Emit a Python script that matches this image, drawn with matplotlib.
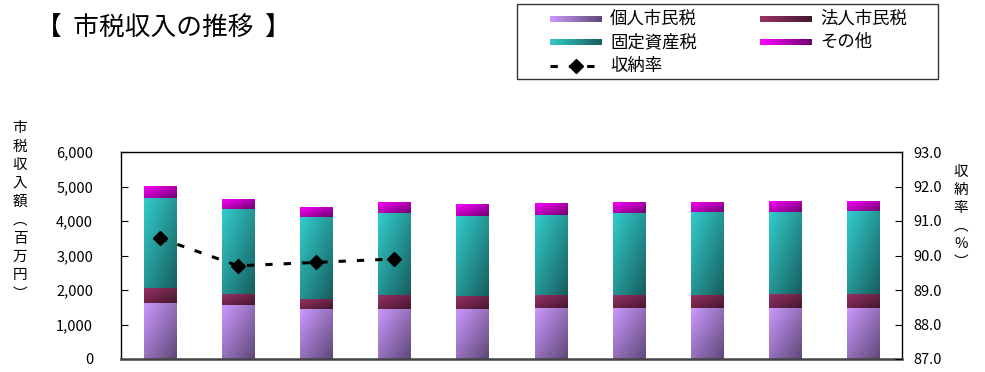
import numpy as np
import matplotlib
matplotlib.use("Agg")
import matplotlib.pyplot as plt
from matplotlib.colors import to_rgb
from matplotlib.patches import Rectangle
from matplotlib.ticker import FuncFormatter, FormatStrFormatter

plt.rcParams['font.family'] = ['Noto Sans CJK JP', 'DejaVu Sans']

# values in 百万円
personal = [1630, 1573, 1456, 1456, 1456, 1485, 1485, 1485, 1485, 1485]
corporate = [437, 320, 292, 408, 379, 379, 379, 379, 408, 408]
fixed_asset = [2592, 2447, 2359, 2359, 2301, 2301, 2359, 2388, 2359, 2389]
others = [350, 291, 291, 321, 349, 350, 321, 292, 321, 291]
rate = [90.5, 89.7, 89.8, 89.9, np.nan, np.nan, np.nan, np.nan, np.nan, np.nan]

series_names = ['個人市民税', '法人市民税', '固定資産税', 'その他']
rate_name = '収納率'

# light / dark ends of each gradient
colors = [('#CC99FF', '#5E4878'), ('#993366', '#45162E'),
          ('#33CCCC', '#175E5E'), ('#FF00FF', '#700070')]

DASH = (0, (2.4, 3.6))


def gradient_img(c_light, c_dark, diagonal=True, n=64):
    a, b = np.array(to_rgb(c_light)), np.array(to_rgb(c_dark))
    u = np.linspace(0, 1, n)
    if diagonal:
        t = (u[None, :] + u[:, None]) / 2
    else:
        t = np.tile(u, (n, 1))
    return a + (b - a) * t[..., None]


def fill_gradient(ax, patch, c_light, c_dark, diagonal=True):
    x, y = patch.get_x(), patch.get_y()
    w, h = patch.get_width(), patch.get_height()
    im = ax.imshow(gradient_img(c_light, c_dark, diagonal), extent=[x, x + w, y, y + h],
                   origin='upper', aspect='auto', interpolation='bilinear',
                   zorder=patch.get_zorder())
    im.set_clip_path(patch)
    patch.set_facecolor('none')


def main():
    W, H = 985, 372
    fig = plt.figure(figsize=(W / 100, H / 100), dpi=100)
    ax = fig.add_axes([121 / W, 1 - 359 / H, 781 / W, 207 / H])

    x = np.arange(len(personal))
    bottom = np.zeros(len(x))
    for vals, (c1, c2) in zip([personal, corporate, fixed_asset, others], colors):
        bars = ax.bar(x, vals, width=0.41, bottom=bottom, edgecolor='none', zorder=2)
        for p in bars:
            fill_gradient(ax, p, c1, c2)
        bottom += np.array(vals)

    ax.set_xlim(-0.5, len(x) - 0.5)
    ax.set_ylim(0, 6000)
    ax.set_yticks(np.arange(0, 6001, 1000))
    ax.yaxis.set_major_formatter(FuncFormatter(lambda v, p: f'{v:,.0f}'))
    ax.tick_params(axis='y', direction='in', length=5, pad=20, labelsize=10.5)
    ax.tick_params(axis='x', bottom=False, labelbottom=False)
    for s in ['top', 'left', 'right']:
        ax.spines[s].set_linewidth(1.0)
    ax.spines['bottom'].set_color('#444444')
    ax.spines['bottom'].set_linewidth(1.8)

    ax2 = ax.twinx()
    ax2.plot(x, rate, color='black', linestyle=DASH, linewidth=2.2,
             marker='D', markersize=7.5)
    ax2.set_ylim(87, 93)
    ax2.set_yticks(np.arange(87, 93.1, 1))
    ax2.yaxis.set_major_formatter(FormatStrFormatter('%.1f'))
    ax2.tick_params(axis='y', direction='in', length=5, pad=8, labelsize=10.5)
    for s in ax2.spines.values():
        s.set_visible(False)

    # title and axis labels
    fig.text(36 / W, 1 - 29 / H, '【  市税収入の推移  】', fontsize=18.5, va='center', ha='left')
    fig.text(20 / W, 1 - 211 / H, '\n'.join('市税収入額︵百万円︶'), fontsize=10.5,
             ha='center', va='center', linespacing=1.4)
    fig.text(961 / W, 1 - 217 / H, '\n'.join('収納率︵%︶'), fontsize=10.5,
             ha='center', va='center', linespacing=1.35)

    # legend box drawn in figure pixels
    lax = fig.add_axes([0, 0, 1, 1])
    lax.set_xlim(0, W)
    lax.set_ylim(H, 0)
    lax.axis('off')
    lax.add_patch(Rectangle((517, 4), 421, 75, fill=False, edgecolor='#333333', linewidth=1))
    slots = [(550, 19), (760, 19), (550, 42), (760, 42)]
    for (sx, sy), name, (c1, c2) in zip(slots, series_names, colors):
        sw = Rectangle((sx, sy - 3.5), 52, 7, edgecolor='none')
        lax.add_patch(sw)
        fill_gradient(lax, sw, c1, c2, diagonal=False)
        lax.text(sx + 60, sy, name, fontsize=12.5, va='center', ha='left')
    lax.set_xlim(0, W)
    lax.set_ylim(H, 0)
    lax.plot([550, 602], [66, 66], color='black', linestyle=DASH, linewidth=2.2)
    lax.plot([576], [66], color='black', marker='D', markersize=7)
    lax.text(610, 66, rate_name, fontsize=12.5, va='center', ha='left')

    fig.savefig('out.png', dpi=100)


if __name__ == "__main__":
    main()
